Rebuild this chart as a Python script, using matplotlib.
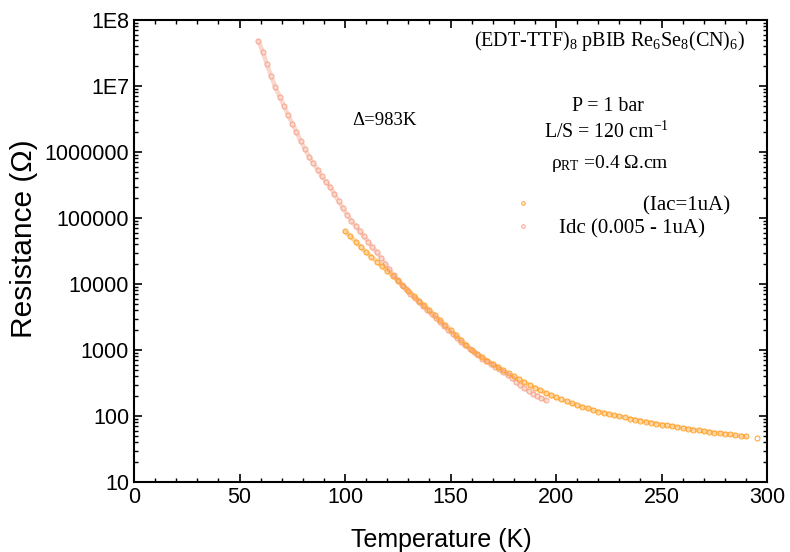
import numpy as np
import matplotlib
matplotlib.use('Agg')
import matplotlib.pyplot as plt
from matplotlib.ticker import FixedLocator, MultipleLocator, LogLocator, NullFormatter

plt.rcParams['font.family'] = 'Liberation Sans'
plt.rcParams['mathtext.fontset'] = 'custom'
plt.rcParams['mathtext.rm'] = 'Liberation Serif'
plt.rcParams['mathtext.it'] = 'Liberation Serif:italic'

# Iac = 1 uA (orange)
t_iac = [100, 102.5, 105, 107.5, 110, 112.5, 115, 117.5, 120, 122.5, 125, 127.5,
         130, 132.5, 135, 137.5, 140, 142.5, 145, 147.5, 150, 152.5, 155, 157.5,
         160, 162.5, 165, 167.5, 170, 172.5, 175, 177.5, 180, 182.5, 185, 187.5,
         190, 192.5, 195, 197.5, 200, 202.5, 205, 207.5, 210, 212.5, 215, 217.5,
         220, 222.5, 225, 227.5, 230, 232.5, 235, 237.5, 240, 242.5, 245, 247.5,
         250, 252.5, 255, 257.5, 260, 262.5, 265, 267.5, 270, 272.5, 275, 277.5,
         280, 282.5, 285, 287.5, 290]
r_iac = [63100, 52500, 43700, 36300, 30200, 25700, 21900, 18600, 15800, 13300, 11200, 9440,
         7940, 6680, 5620, 4730, 3980, 3350, 2820, 2370, 2000, 1680, 1410, 1190,
         1000, 881, 776, 692, 617, 550, 490, 442, 398, 359, 324, 295,
         269, 245, 224, 207, 191, 178, 166, 155, 146, 138, 130, 123,
         117, 112, 107, 102, 98.9, 95.1, 91.2, 88.1, 85.1, 82.2, 79.4, 76.7,
         74.1, 72.1, 70.0, 68.1, 66.1, 64.3, 62.4, 60.7, 58.9, 57.5, 56.2, 55.0,
         53.7, 52.5, 51.3, 50.1, 49.0]
# last isolated Iac point
t_iac_last = [295]
r_iac_last = [45.7]

# Idc 0.005 - 1 uA (salmon)
t_idc = [59, 61, 63, 65, 67, 69, 71, 73, 75, 77, 79, 81, 83, 85, 87, 89, 91, 93,
         95, 97, 99, 101, 103, 105, 107, 109, 111, 113, 115, 117, 119, 121, 123, 125,
         127, 129, 131, 133, 135, 137, 139, 141, 143, 145, 147, 149, 151, 153, 155, 157,
         159, 161, 163, 165, 167, 169, 171, 173, 175, 177, 179, 181, 183, 185, 187, 189,
         191, 193, 195]
r_idc = [4.79e7, 3.31e7, 2.14e7, 1.41e7, 9.55e6, 6.92e6, 5.01e6, 3.63e6, 2.69e6, 2.00e6,
         1.48e6, 1.10e6, 8.51e5, 6.76e5, 5.37e5, 4.27e5, 3.55e5, 2.95e5,
         2.29e5, 1.78e5, 1.41e5, 1.12e5, 9.12e4, 7.59e4, 6.31e4, 5.25e4, 4.37e4, 3.63e4,
         3.02e4, 2.51e4, 2.04e4, 1.66e4, 1.38e4, 1.15e4,
         9770, 8320, 7080, 6030, 5250, 4570, 3980, 3470, 3020, 2630, 2290, 2000, 1740,
         1510, 1320, 1170, 1050, 933, 832, 741, 676, 617, 562, 513, 468, 417, 380, 331,
         295, 263, 240, 219, 200, 186, 174]

y_ticks = [10, 100, 1000, 10000, 100000, 1000000, 1e7, 1e8]
y_labels = ['10', '100', '1000', '10000', '100000', '1000000', '1E7', '1E8']

c_idc = '#F6A48C'
c_iac = '#FFA028'

fig = plt.figure(figsize=(7.9, 5.52), dpi=100)
ax = fig.add_axes([0.1696, 0.1268, 0.8014, 0.837])

# dense measurement points -> drawn as a soft band plus open circles
ax.plot(t_idc, r_idc, '-', color=c_idc, lw=3.2, alpha=0.45, solid_capstyle='round')
ax.plot(t_iac, r_iac, '-', color=c_iac, lw=3.2, alpha=0.45, solid_capstyle='round')
ax.plot(t_idc, r_idc, 'o', ls='none', ms=3.6, mfc='none', mec=c_idc, mew=0.7,
        label='Idc (0.005 - 1uA)')
ax.plot(t_iac, r_iac, 'o', ls='none', ms=3.6, mfc='none', mec=c_iac, mew=0.7,
        label='                (Iac=1uA)')
ax.plot(t_iac_last, r_iac_last, 'o', ls='none', ms=3.6, mfc='none', mec=c_iac, mew=0.7)

ax.set_yscale('log')
ax.set_xlim(0, 300)
ax.set_ylim(10, 1e8)
ax.xaxis.set_major_locator(MultipleLocator(50))
ax.xaxis.set_minor_locator(MultipleLocator(10))
ax.yaxis.set_major_locator(FixedLocator(y_ticks))
ax.set_yticklabels(y_labels)
ax.yaxis.set_minor_locator(LogLocator(base=10, subs=np.arange(2, 10)))
ax.yaxis.set_minor_formatter(NullFormatter())

ax.tick_params(which='both', direction='in', top=True, right=True, labelsize=15.5)
ax.tick_params(which='major', length=6, width=1.2)
ax.tick_params(which='minor', length=3, width=1.0)
for s in ax.spines.values():
    s.set_linewidth(1.5)

ax.set_xlabel('Temperature (K)', fontsize=18)
ax.set_ylabel('Resistance (Ω)', fontsize=21.5)
ax.xaxis.set_label_coords(0.486, -0.1)
ax.yaxis.set_label_coords(-0.152, 0.526)

serif = 'Liberation Serif'
ax.text(0.965, 0.955, '(EDT-TTF)$_8$ pBIB Re$_6$Se$_8$(CN)$_6$)', transform=ax.transAxes,
        ha='right', va='center', fontsize=14.5, family=serif)
ax.text(0.749, 0.812, 'P = 1 bar', transform=ax.transAxes, ha='center', va='center',
        fontsize=14.3, family=serif)
ax.text(0.746, 0.757, 'L/S = 120 cm$^{-1}$', transform=ax.transAxes, ha='center',
        va='center', fontsize=14.3, family=serif)
ax.text(0.751, 0.69, 'ρ$_{\\rm RT}$ =0.4 Ω.cm', transform=ax.transAxes, ha='center',
        va='center', fontsize=14, family=serif)
ax.text(0.395, 0.783, 'Δ=983K', transform=ax.transAxes, ha='center', va='center',
        fontsize=13.5, family=serif)

handles, labels = ax.get_legend_handles_labels()
leg = ax.legend(handles[::-1], labels[::-1], loc='upper left', bbox_to_anchor=(0.572, 0.66),
                frameon=False, prop={'family': serif, 'size': 15}, handlelength=0.8,
                handletextpad=1.3, labelspacing=0.15, markerscale=0.7)

fig.savefig('out.png', dpi=100)
